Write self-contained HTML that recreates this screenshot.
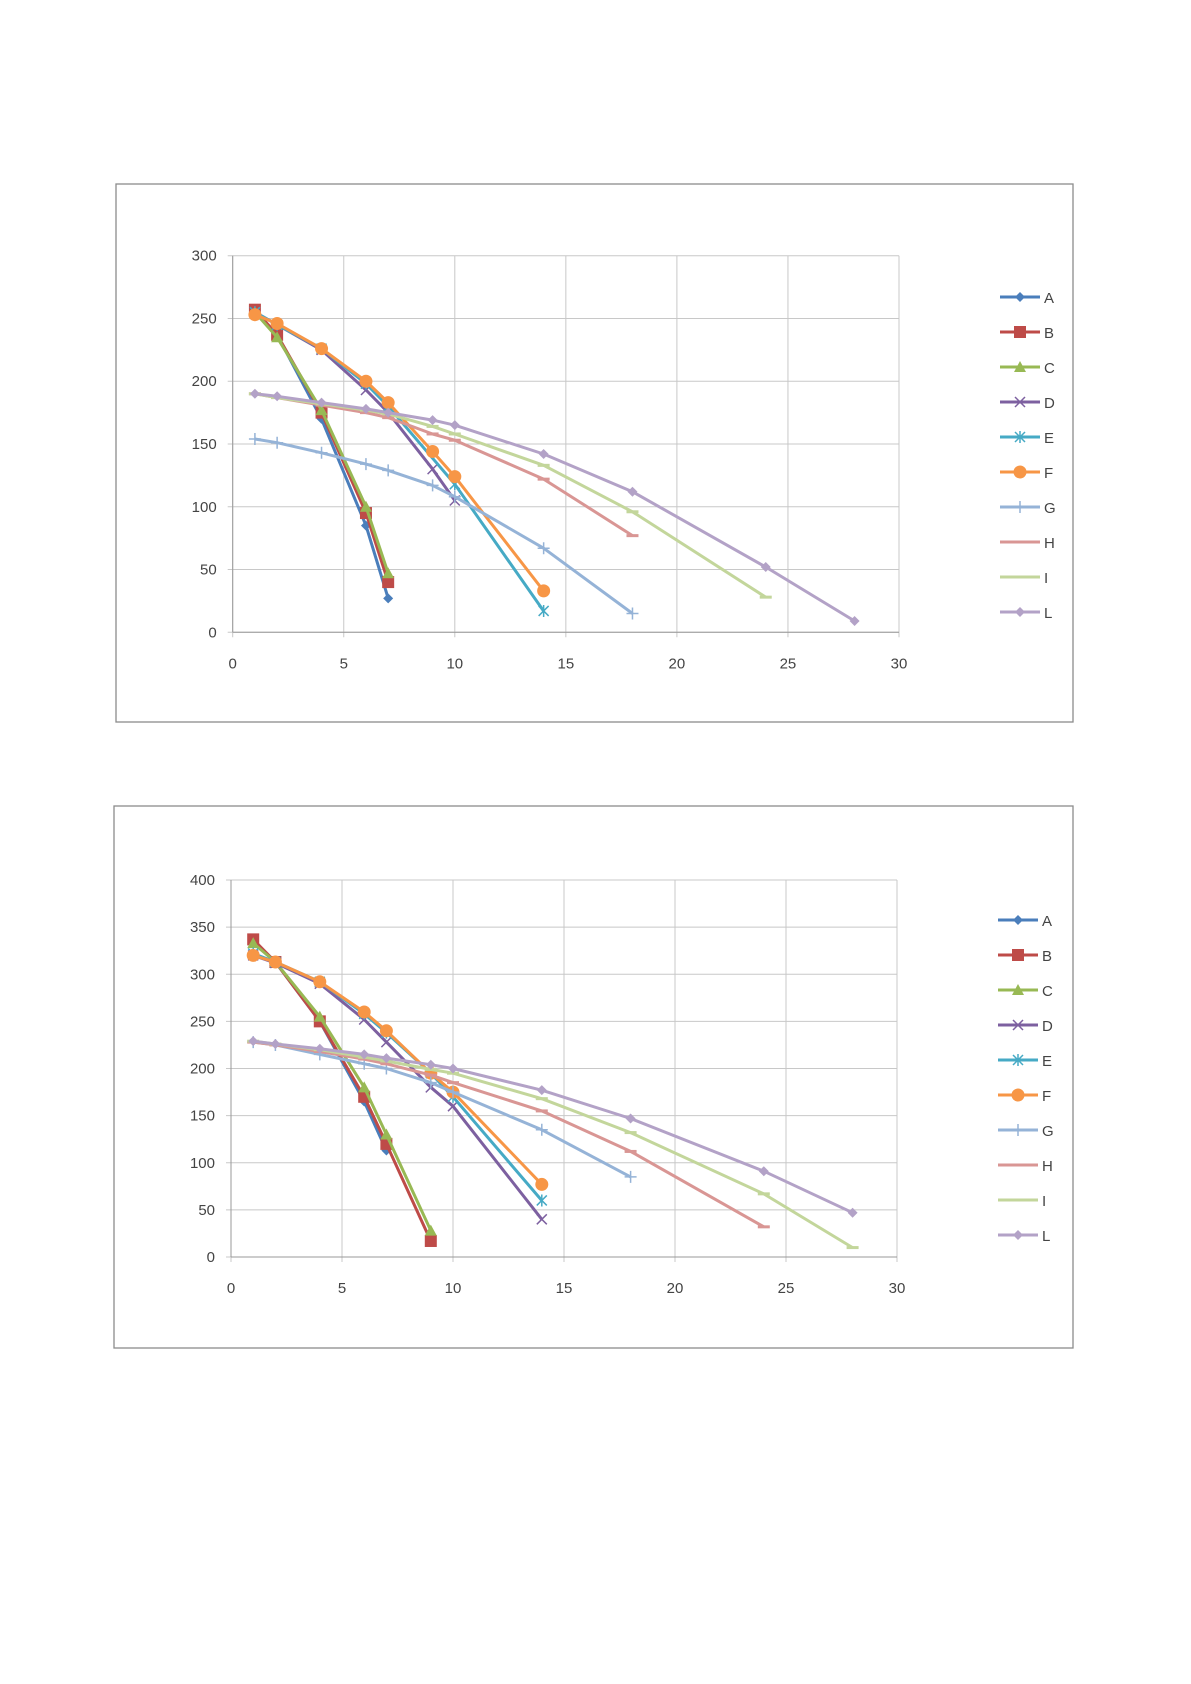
<!DOCTYPE html>
<html><head><meta charset="utf-8"><style>
html,body{margin:0;padding:0;background:#fff;}
svg{display:block;font-family:"Liberation Sans",sans-serif;}
</style></head><body>
<svg id="s" width="1191" height="1684" viewBox="0 0 1191 1684" xmlns="http://www.w3.org/2000/svg"></svg>
<script>
const C={A:'#4a7ebb',B:'#be4b48',C:'#98b954',D:'#7d60a0',E:'#46aac5',F:'#f79646',G:'#95b3d7',H:'#d99694',I:'#c3d69b',L:'#b3a2c7'};
const M={A:'diamond',B:'square',C:'tri',D:'x',E:'star',F:'circle',G:'plus',H:'dash',I:'dash',L:'diamond'};
const d1={
A:[[1,255],[2,237],[4,170],[6,85],[7,27]],
B:[[1,257],[2,237],[4,175],[6,95],[7,40]],
C:[[1,255],[2,235],[4,177],[6,100],[7,47]],
D:[[1,255],[2,245],[4,225],[6,193],[7,175],[9,130],[10,105]],
E:[[1,255],[2,245],[4,226],[6,198],[7,180],[10,118],[14,17]],
F:[[1,253],[2,246],[4,226],[6,200],[7,183],[9,144],[10,124],[14,33]],
G:[[1,154],[2,151],[4,143],[6,134],[7,129],[9,117],[10,108],[14,67],[18,15]],
H:[[1,190],[2,187],[4,181],[6,175],[7,171],[9,158],[10,153],[14,122],[18,77]],
I:[[1,190],[2,187],[4,182],[6,177],[7,174],[9,164],[10,158],[14,133],[18,96],[24,28]],
L:[[1,190],[2,188],[4,183],[6,178],[7,175],[9,169],[10,165],[14,142],[18,112],[24,52],[28,9]]};
const d2={
A:[[1,335],[2,313],[4,250],[6,165],[7,113]],
B:[[1,337],[2,313],[4,250],[6,170],[7,120],[9,17]],
C:[[1,333],[2,313],[4,255],[6,180],[7,130],[9,28]],
D:[[1,320],[2,312],[4,290],[6,252],[7,228],[9,180],[10,160],[14,40]],
E:[[1,322],[2,313],[4,292],[6,258],[7,238],[9,195],[10,170],[14,60]],
F:[[1,320],[2,313],[4,292],[6,260],[7,240],[9,195],[10,175],[14,77]],
G:[[1,228],[2,225],[4,215],[6,205],[7,200],[9,185],[10,175],[14,135],[18,85]],
H:[[1,228],[2,225],[4,218],[6,210],[7,205],[9,193],[10,185],[14,155],[18,112],[24,32]],
I:[[1,229],[2,226],[4,220],[6,212],[7,208],[9,199],[10,195],[14,168],[18,132],[24,67],[28,10]],
L:[[1,229],[2,226],[4,221],[6,215],[7,211],[9,204],[10,200],[14,177],[18,147],[24,91],[28,47]]};
function mk(t,x,y,c){
 switch(t){
 case 'diamond':return `<polygon points="${x},${y-5} ${x+5},${y} ${x},${y+5} ${x-5},${y}" fill="${c}"/>`;
 case 'square':return `<rect x="${x-6}" y="${y-6}" width="12" height="12" fill="${c}"/>`;
 case 'tri':return `<polygon points="${x},${y-6} ${x+6},${y+5} ${x-6},${y+5}" fill="${c}"/>`;
 case 'x':return `<path d="M${x-5} ${y-5}L${x+5} ${y+5}M${x+5} ${y-5}L${x-5} ${y+5}" stroke="${c}" stroke-width="1.5"/>`;
 case 'star':return `<path d="M${x-5} ${y-5}L${x+5} ${y+5}M${x+5} ${y-5}L${x-5} ${y+5}M${x} ${y-6}V${y+6}" stroke="${c}" stroke-width="1.5"/>`;
 case 'circle':return `<circle cx="${x}" cy="${y}" r="6.5" fill="${c}"/>`;
 case 'plus':return `<path d="M${x-6} ${y}H${x+6}M${x} ${y-6}V${y+6}" stroke="${c}" stroke-width="1.5"/>`;
 case 'dash':return `<path d="M${x-6} ${y}H${x+6}" stroke="${c}" stroke-width="3"/>`;
 }}
function chart(o){
 let s='';
 s+=`<rect x="${o.bx}" y="${o.by}" width="${o.bw}" height="${o.bh}" fill="#fff" stroke="#8c8c8c" stroke-width="1.3"/>`;
 const X=v=>o.x0+(o.x1-o.x0)*v/30, Y=v=>o.y0-(o.y0-o.y1)*v/o.ymax;
 for(let i=0;i<=6;i++){const x=X(i*5);s+=`<line x1="${x}" y1="${o.y1}" x2="${x}" y2="${o.y0+5}" stroke="#c8c8c8"/>`;
  s+=`<text x="${x}" y="${o.y0+36}" font-size="15" fill="#444" text-anchor="middle">${i*5}</text>`;}
 for(let v=0;v<=o.ymax;v+=50){const y=Y(v);s+=`<line x1="${o.x0-5}" y1="${y}" x2="${o.x1}" y2="${y}" stroke="#c8c8c8"/>`;
  s+=`<text x="${o.x0-16}" y="${y+5}" font-size="15" fill="#444" text-anchor="end">${v}</text>`;}
 s+=`<line x1="${o.x0}" y1="${o.y1}" x2="${o.x0}" y2="${o.y0}" stroke="#999"/><line x1="${o.x0}" y1="${o.y0}" x2="${o.x1}" y2="${o.y0}" stroke="#999"/>`;
 const keys=Object.keys(o.d);
 for(const k of keys){
  const p=o.d[k].map(q=>X(q[0]).toFixed(1)+','+Y(q[1]).toFixed(1)).join(' ');
  s+=`<polyline points="${p}" fill="none" stroke="${C[k]}" stroke-width="3" stroke-linejoin="round"/>`;
  for(const q of o.d[k]) s+=mk(M[k],X(q[0]),Y(q[1]),C[k]);
 }
 keys.forEach((k,i)=>{const y=o.ly+35*i;
  s+=`<line x1="${o.lx}" y1="${y}" x2="${o.lx+40}" y2="${y}" stroke="${C[k]}" stroke-width="3"/>`+mk(M[k],o.lx+20,y,C[k]);
  s+=`<text x="${o.lx+44}" y="${y+6}" font-size="15" fill="#444">${k}</text>`;});
 return s;}
let h='';
h+=chart({bx:116,by:184,bw:957,bh:538,x0:232.7,x1:899,y0:632.3,y1:255.7,ymax:300,d:d1,lx:1000,ly:297});
h+=chart({bx:114,by:806,bw:959,bh:542,x0:231,x1:897,y0:1257,y1:880,ymax:400,d:d2,lx:998,ly:920});
document.getElementById('s').innerHTML=h;
</script>
</body></html>
